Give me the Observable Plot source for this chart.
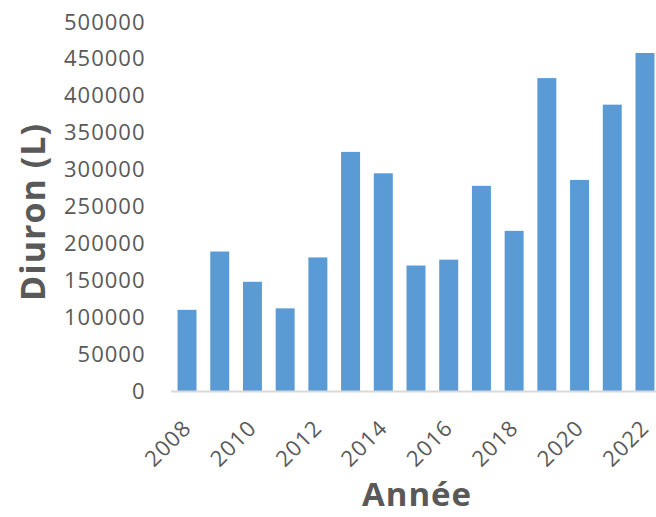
<!DOCTYPE html>
<html>
<head>
<meta charset="utf-8">
<script src="https://cdn.jsdelivr.net/npm/d3@7"></script>
<script src="https://cdn.jsdelivr.net/npm/@observablehq/plot@0.6"></script>
<style>
  html, body { margin: 0; padding: 0; background: #fff; overflow: hidden; }
</style>
</head>
<body>
<div id="chart"></div>
<script>
const years = [2008, 2009, 2010, 2011, 2012, 2013, 2014, 2015, 2016, 2017, 2018, 2019, 2020, 2021, 2022];
const diuron = [110000, 189000, 148000, 112000, 181000, 324000, 295000, 170000, 178000, 278000, 217000, 424000, 286000, 388000, 458000];
const xTickLabels = [2008, 2010, 2012, 2014, 2016, 2018, 2020, 2022];
const yTicks = [0, 50000, 100000, 150000, 200000, 250000, 300000, 350000, 400000, 450000, 500000];
const yLabel = "Diuron (L)";
const xLabel = "Année";

const data = years.map((y, i) => ({year: y, value: diuron[i]}));

const chart = Plot.plot({
  width: 656,
  height: 517,
  marginLeft: 171,
  marginRight: 0,
  marginTop: 22,
  marginBottom: 126,
  style: {fontFamily: "'Open Sans', sans-serif", fontSize: "22px", color: "#595959", background: "#fff", letterSpacing: "1px", overflow: "hidden"},
  x: {domain: years, range: [171, 661], paddingInner: 0.42, paddingOuter: 0.2, round: false},
  y: {domain: [0, 500000]},
  marks: [
    Plot.barY(data, {x: "year", y: "value", fill: "#5b9bd5"}),
    Plot.ruleY([0], {stroke: "#d9d9d9", strokeWidth: 2}),
    Plot.axisY({ticks: yTicks, tickFormat: d => String(d), tickSize: 0, tickPadding: 26, label: null}),
    Plot.axisX({ticks: xTickLabels, tickFormat: d => String(d), tickSize: 0, tickPadding: 33, tickRotate: -45, label: null}),
    Plot.text([yLabel], {frameAnchor: "left", textAnchor: "middle", rotate: -90, dx: -137, dy: 5, fontSize: 34, fontWeight: "bold", fill: "#595959"}),
    Plot.text([xLabel], {frameAnchor: "bottom", textAnchor: "middle", dx: 3, dy: 114, fontSize: 33, fontWeight: "bold", fill: "#595959"})
  ]
});
document.getElementById("chart").appendChild(chart);
</script>
</body>
</html>
